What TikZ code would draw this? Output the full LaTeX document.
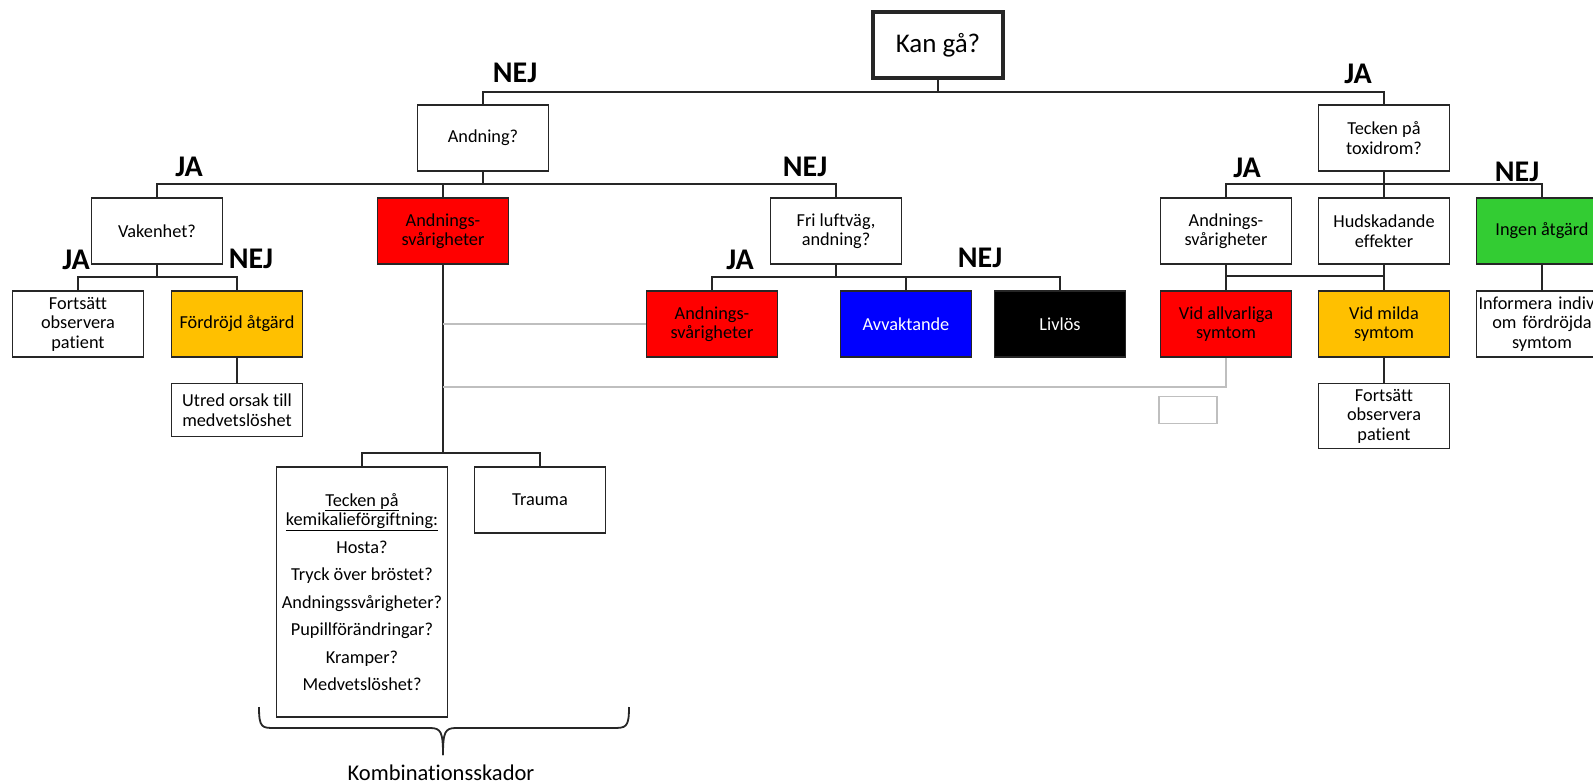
\documentclass[tikz,border=0pt]{standalone}
\usepackage{fontspec}
\setmainfont{Carlito}[Ligatures=NoCommon]
\definecolor{guld}{RGB}{255,192,0}
\definecolor{gron}{RGB}{51,204,51}
\definecolor{bla}{RGB}{0,0,255}
\tikzset{%
  box/.style      = {shape=rectangle, draw=black!85, line width=1.8pt,%
                     align=center, inner sep=2pt,%
                     minimum width=131pt, minimum height=66pt,%
                     font=\fontsize{18.3}{19.5}\selectfont},%
  kanbox/.style   = {box, line width=4pt, minimum width=130pt,%
                     font=\fontsize{27}{30}\selectfont},%
  redbox/.style   = {box, fill=red},%
  gulbox/.style   = {box, fill=guld},%
  svar/.style     = {font=\fontsize{30}{32}\selectfont\bfseries, inner sep=0pt},%
  line/.style     = {draw=black!85, line width=1.8pt},%
  grayline/.style = {draw=black!25, line width=2pt}%
}
\begin{document}
\begin{tikzpicture}[x=1pt,y=-1pt]
	\useasboundingbox (0,0) rectangle (1593,784);
	\clip (0,0) rectangle (1593,784);
	% frågor
	\node [kanbox] (kan) at (938,45) {Kan gå?};
	\node [box] (andning) at (483,138) {Andning?};
	\node [box] (toxi) at (1384,138) {Tecken på\\toxidrom?};
	\node [box] (vaken) at (157,231) {Vakenhet?};
	\node [redbox] (andn1) at (443,231) {Andnings-\\svårigheter};
	\node [box] (fri) at (836,231) {Fri luftväg,\\andning?};
	\node [box] (andn3) at (1226,231) {Andnings-\\svårigheter};
	\node [box] (hud) at (1384,231) {Hudskadande\\effekter};
	\node [box, fill=gron] (ingen) at (1542,231) {Ingen åtgärd};
	% åtgärder
	\node [box] (fort1) at (78,324) {Fortsätt\\observera\\patient};
	\node [gulbox] (ford) at (237,324) {Fördröjd åtgärd};
	\node [box, minimum height=53pt] (utred) at (237,410) {Utred orsak till\\medvetslöshet};
	\node [redbox] (andn2) at (712,324) {Andnings-\\svårigheter};
	\node [box, fill=bla, text=white] (avv) at (906,324) {Avvaktande};
	\node [box, fill=black, text=white] (livlos) at (1060,324) {Livlös};
	\node [redbox] (allv) at (1226,324) {Vid allvarliga\\symtom};
	\node [gulbox] (milda) at (1384,324) {Vid milda\\symtom};
	\node [box, text width=127pt] (info) at (1542,324) {\mbox{Informera individen}\\om fördröjda\\symtom};
	\node [box, minimum height=65pt] (fort2) at (1384,416) {Fortsätt\\observera\\patient};
	\node [box, draw=black!25, line width=1.5pt, minimum width=58pt, minimum height=27pt] (blank) at (1188,410) {};
	\node [box, minimum width=171pt, minimum height=250pt] (kemi) at (362,592)
		{\underline{Tecken på}\\\underline{kemikalieförgiftning:}\\[8pt]Hosta?\\[8pt]Tryck över bröstet?\\[8pt]Andningssvårigheter?\\[8pt]Pupillförändringar?\\[8pt]Kramper?\\[8pt]Medvetslöshet?};
	\node [box] (trauma) at (540,500) {Trauma};
	% svar
	\node [svar] (nej1) at (515,73) {NEJ};
	\node [svar] (ja1) at (1358,74) {JA};
	\node [svar] (ja2) at (189,167) {JA};
	\node [svar] (nej2) at (805,167) {NEJ};
	\node [svar] (ja3) at (76,260) {JA};
	\node [svar] (nej3) at (251,259) {NEJ};
	\node [svar] (ja4) at (740,260) {JA};
	\node [svar] (nej4) at (980,258) {NEJ};
	\node [svar] (ja5) at (1247,168) {JA};
	\node [svar] (nej5) at (1517,172) {NEJ};
	% linjer
	\foreach \n in {andning,toxi}
		\draw [line] (kan.south) -- ++(0,12) -| (\n.north);
	\foreach \n in {vaken,andn1,fri}
		\draw [line] (andning.south) -- ++(0,12) -| (\n.north);
	\foreach \n in {fort1,ford}
		\draw [line] (vaken.south) -- ++(0,12) -| (\n.north);
	\foreach \n in {andn2,avv,livlos}
		\draw [line] (fri.south) -- ++(0,12) -| (\n.north);
	\foreach \n in {andn3,hud,ingen}
		\draw [line] (toxi.south) -- ++(0,12) -| (\n.north);
	\foreach \n in {kemi,trauma}
		\draw [line] (andn1.south) -- ++(0,188) -| (\n.north);
	\draw [line] (ford.south) -- (utred.north);
	\draw [line] (andn3.south) -- (allv.north);
	\draw [line] (hud.south) -- (milda.north);
	\draw [line] (milda.south) -- (fort2.north);
	\draw [line] (ingen.south) -- (info.north);
	\path (andn3.south) ++(0,11) coordinate (tvar);
	\draw [line] (tvar) -- (tvar -| hud.south);
	\draw [grayline] (andn1.south |- andn2.west) -- (andn2.west);
	\coordinate (grav) at (443,387);
	\draw [grayline] (allv.south) |- (grav);
	% klammer
	\coordinate (kv) at (259,707);
	\coordinate (kh) at (629,707);
	\coordinate (kspets) at (443,755);
	\draw [line] (kv) .. controls (259,728) and (262,728) .. (275,728) -- (430,728)
		.. controls (441,728) and (443,732) .. (kspets);
	\draw [line] (kh) .. controls (629,728) and (626,728) .. (612,728) -- (456,728)
		.. controls (445,728) and (443,732) .. (kspets);
	\node [font=\fontsize{22.5}{24}\selectfont] (komb) at (441,773) {Kombinationsskador};
\end{tikzpicture}
\end{document}
